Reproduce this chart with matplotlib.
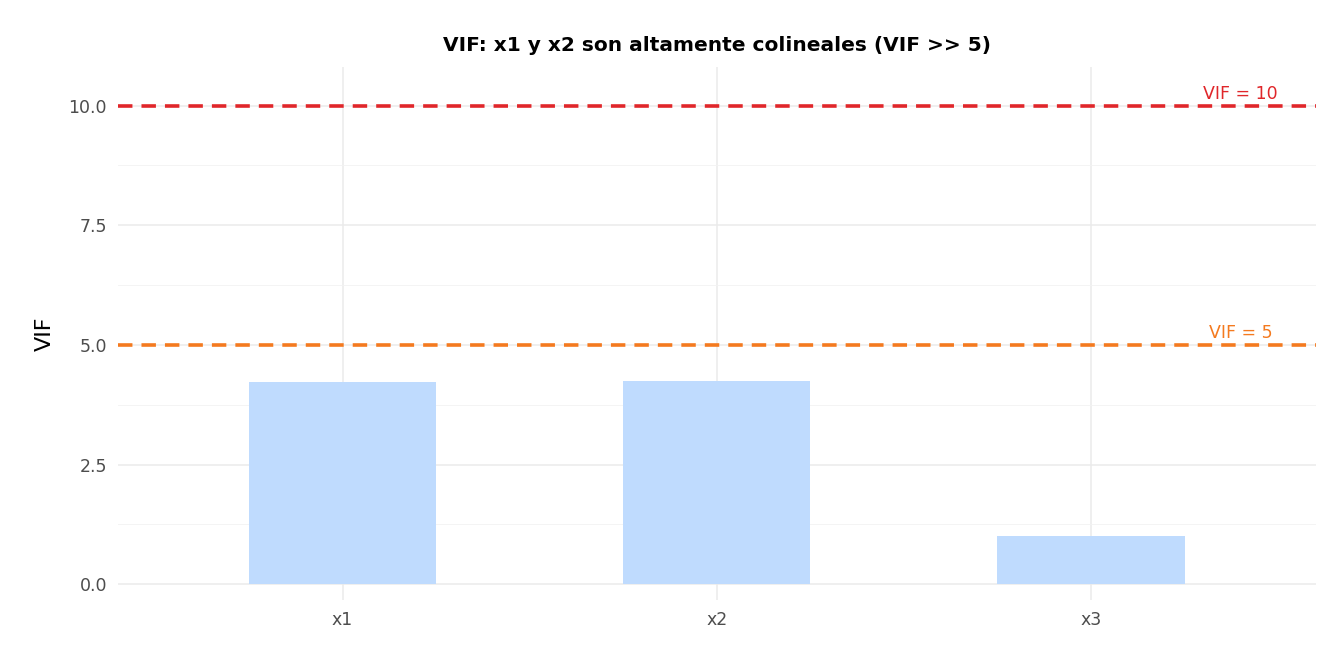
import matplotlib
matplotlib.use("Agg")
import matplotlib.pyplot as plt

categories = ["x1", "x2", "x3"]
vif = [4.22, 4.24, 1.01]
thresholds = [5, 10]
threshold_labels = ["VIF = 5", "VIF = 10"]
threshold_colors = ["#F47A1F", "#E0262A"]

fig = plt.figure(figsize=(13.44, 6.72), dpi=100)
ax = fig.add_axes([0.0878, 0.107, 0.891, 0.793])
xs = list(range(1, len(categories) + 1))
ax.bar(xs, vif, width=0.5, color="#BFDBFE", zorder=2)
for t, lab, c in zip(thresholds, threshold_labels, threshold_colors):
    ax.axhline(t, color=c, linestyle=(0, (4, 2.5)), linewidth=2.6, zorder=3)
    ax.text(3.4, t + 0.25, lab, color=c, ha="center", va="center", fontsize=12.5, zorder=4)

ax.set_xlim(0.4, 3.6)
ax.set_ylim(-0.33, 10.8)
ax.set_xticks(xs)
ax.set_xticklabels(categories)
ax.set_yticks([0, 2.5, 5, 7.5, 10])
ax.set_yticklabels(["0.0", "2.5", "5.0", "7.5", "10.0"])
ax.set_yticks([1.25, 3.75, 6.25, 8.75], minor=True)
ax.grid(True, which="major", color="#EBEBEB", linewidth=1.1, zorder=0)
ax.grid(True, which="minor", axis="y", color="#F2F2F2", linewidth=0.6, zorder=0)
ax.tick_params(which="both", length=0, labelsize=12.5, labelcolor="#4D4D4D", pad=8)
for s in ax.spines.values():
    s.set_visible(False)
ax.set_ylabel("VIF", fontsize=16, labelpad=10)
ax.set_title("VIF: x1 y x2 son altamente colineales (VIF >> 5)", fontsize=14.5, fontweight="bold", pad=12)
fig.savefig("out.png", dpi=100)
